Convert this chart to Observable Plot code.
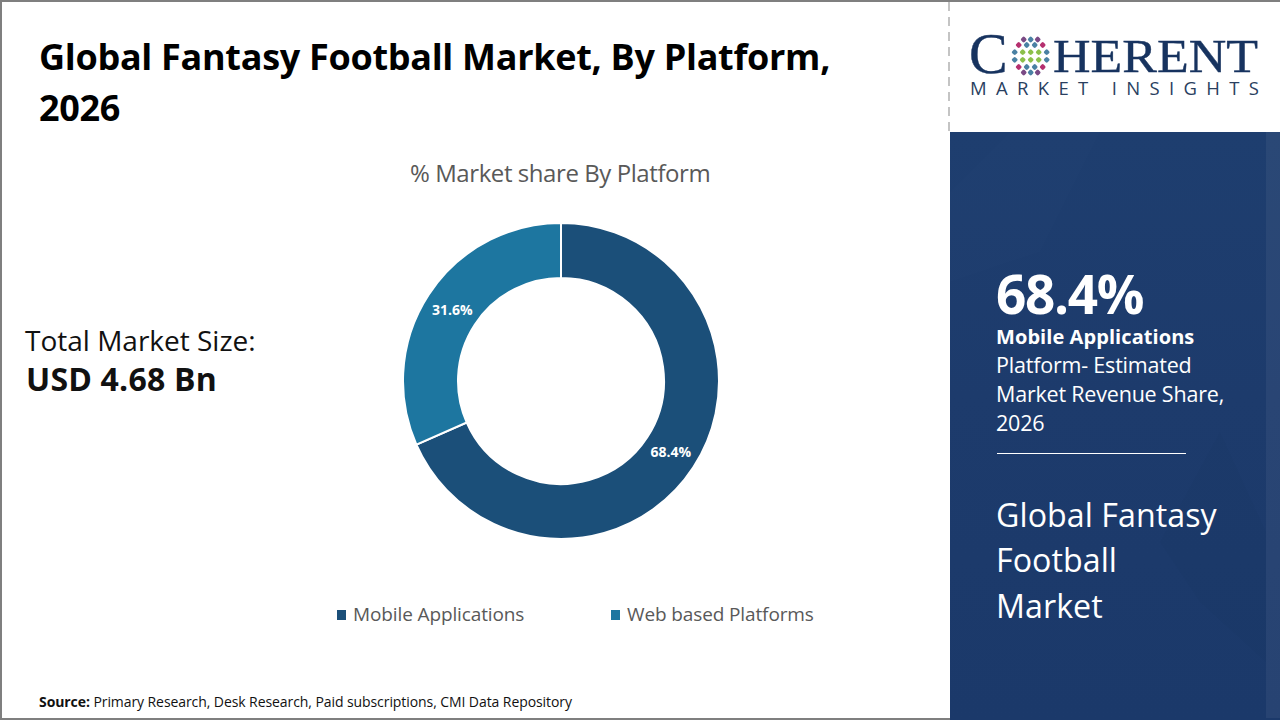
<!DOCTYPE html>
<html><head><meta charset="utf-8">
<script src="https://cdn.jsdelivr.net/npm/d3@7"></script>
<script src="https://cdn.jsdelivr.net/npm/@observablehq/plot@0.6"></script>
<style>
html,body{margin:0;padding:0;background:#fff}
#page{position:relative;width:1280px;height:720px;overflow:hidden;font-family:"Open Sans",sans-serif;background:#fff}
#page>div,#page>svg{position:absolute}
.t{white-space:nowrap}
</style></head><body>
<div id="page"></div>
<script>
const titleLines = ["Global Fantasy Football Market, By Platform,", "2026"];
const chartTitle = "% Market share By Platform";
const platforms = ["Mobile Applications", "Web based Platforms"];
const shares = [68.4, 31.6];
const colors = ["#1b4f79", "#1d76a0"];
const totalLabel = "Total Market Size:";
const totalValue = "USD 4.68 Bn";
const sourceLabel = "Source:";
const sourceText = " Primary Research, Desk Research, Paid subscriptions, CMI Data Repository";
const panelValue = "68.4%";
const panelBold = "Mobile Applications";
const panelLines = ["Platform- Estimated", "Market Revenue Share,", "2026"];
const panelName = ["Global Fantasy", "Football", "Market"];

const page = d3.select("#page");
function text(str, x, base, size, weight, color, spacing) {
  return page.append("div").attr("class", "t").text(str)
    .style("left", x + "px").style("top", (base - size) + "px")
    .style("line-height", (size * 1.36) + "px").style("font-size", size + "px")
    .style("font-weight", weight).style("color", color)
    .style("letter-spacing", (spacing || 0) + "px");
}

// frame + panel
page.append("div").style("left", "0").style("top", "0").style("width", "1280px").style("height", "720px")
  .style("box-sizing", "border-box").style("border", "2px solid #7f7f7f").style("border-right", "none");
page.append("div").style("left", "948px").style("top", "2px").style("width", "2px").style("height", "130px")
  .style("background", "repeating-linear-gradient(180deg,#c4c4c4 0 9px,transparent 9px 15px)");
page.append("div").style("left", "950px").style("top", "132px").style("width", "330px").style("height", "588px")
  .style("background", "linear-gradient(180deg,#1e3e6f 0%,#1d3b6c 45%,#1b396a 100%)");
const tex = page.append("svg").attr("width", 330).attr("height", 588).style("left", "950px").style("top", "132px");
tex.append("polygon").attr("points", "0,60 60,0 150,0 90,120 0,150").attr("fill", "#fff").attr("opacity", 0.008);
tex.append("polygon").attr("points", "210,410 270,300 316,400 316,530 250,470").attr("fill", "#000").attr("opacity", 0.015);
tex.append("rect").attr("x", 316).attr("y", 0).attr("width", 14).attr("height", 586).attr("fill", "#fff").attr("opacity", 0.055);

// texts
titleLines.forEach((l, i) => text(l, 39, 69 + i * 51, 36, 700, "#000", -0.3));
text(chartTitle, 410, 181, 24, 400, "#595959", -0.43);
text(totalLabel, 25, 349, 28, 400, "#111", 0);
text(totalValue, 26, 389, 32, 700, "#111", 0.2);

const src = text(sourceLabel, 39, 706, 14, 700, "#111", -0.08);
src.append("span").style("font-weight", 400).text(sourceText);

text(panelValue, 996, 311, 53, 700, "#fff", -1.3);
text(panelBold, 996, 343, 20, 700, "#fff", 0.07);
panelLines.forEach((l, i) => text(l, 996, 371 + i * 29, 21.5, 400, "#fff", -0.2));
page.append("div").style("left", "997px").style("top", "453px").style("width", "189px").style("height", "1px").style("background", "#fff");
panelName.forEach((l, i) => text(l, 996, 525 + i * 45.5, 32.2, 400, "#fff", 0.05));

// legend
const legendX = [337, 611];
platforms.forEach((p, i) => {
  page.append("div").style("left", legendX[i] + "px").style("top", "610px").style("width", "9px").style("height", "10px").style("background", colors[i]);
  text(p, legendX[i] + 16, 621, 19, 400, "#595959", -0.12);
});

// donut, drawn with Plot through the x (angle) and color scales
const table = platforms.map((platform, i) => ({platform, share: shares[i]}));
const outer = 158, inner = 103;
const size = 340;
const donut = Plot.plot({
  width: size, height: size, margin: 0,
  style: {background: "transparent", overflow: "visible"},
  x: {domain: [0, 100], range: [0, 2 * Math.PI], axis: null},
  y: {axis: null},
  color: {domain: platforms, range: colors},
  marks: [
    Plot.barX(table, Plot.stackX({
      x: "share", fill: "platform", order: null,
      render(index, scales, values, dimensions, context) {
        const g = d3.create("svg:g").attr("aria-label", "arc");
        const arc = d3.arc().innerRadius(inner).outerRadius(outer);
        for (const i of index) {
          g.append("path")
            .attr("transform", `translate(${size / 2},${size / 2})`)
            .attr("d", arc({startAngle: values.x1[i], endAngle: values.x2[i]}))
            .attr("fill", values.fill[i]).attr("stroke", "#fff").attr("stroke-width", 2);
        }
        return g.node();
      }
    })),
    Plot.text(table, Plot.stackX({
      x: "share", text: d => d.share + "%", order: null, fill: "#fff",
      fontSize: 14, fontWeight: 700, fontFamily: "Open Sans",
      render(index, scales, values, dimensions, context, next) {
        const r = (outer + inner) / 2;
        const X = Array.from(values.x, a => size / 2 + r * Math.sin(a));
        const Y = Array.from(values.x, a => size / 2 - r * Math.cos(a));
        return next(index, scales, {...values, x: X, y: Y}, dimensions, context);
      }
    }))
  ]
});
page.append("div").style("left", (560.5 - size / 2) + "px").style("top", (381 - size / 2) + "px").node().append(donut);

// logo
const logo = page.append("svg").attr("width", 330).attr("height", 132).style("left", "950px").style("top", "0");
const navy = "#17335f";
logo.append("text").attr("x", 19).attr("y", 73).attr("font-family", "Liberation Serif").attr("font-size", 58).attr("fill", navy).attr("stroke", navy).attr("stroke-width", 0.4).text("C");
logo.append("text").attr("x", 103).attr("y", 72).attr("font-family", "Liberation Serif").attr("font-size", 46)
  .attr("textLength", 205).attr("lengthAdjust", "spacingAndGlyphs").attr("fill", navy).attr("stroke", navy).attr("stroke-width", 0.4).text("HERENT");
logo.append("text").attr("x", 20).attr("y", 95).attr("font-family", "Open Sans").attr("font-size", 18.5)
  .attr("textLength", 289).attr("lengthAdjust", "spacing").attr("fill", "#2a3f5f").text("MARKET INSIGHTS");
const gx = 80.7, gy = 56;
const rowsY = [-16.5, -11, -3.8, 3.8, 11, 16.5];
const colsX = {0:[-7,0,7], 1:[-12,-4,4,12], 2:[-16,-8,0,8,16], 3:[-16,-8,0,8,16], 4:[-12,-4,4,12], 5:[-7,0,7]};
rowsY.forEach((y, r) => colsX[r].forEach(x => {
  let c = "#4a81a3";
  if (r >= 2 && r <= 3 && Math.abs(x) <= 8) c = "#8cc04b";
  if ((r === 1 || r === 4) && Math.abs(x) === 12) c = "#b5306f";
  if (r === 0 || r === 5) c = Math.abs(x) === 7 ? "#7a4a85" : "#4a81a3";
  logo.append("rect").attr("x", gx + x - 2.4).attr("y", gy + y - 2.4).attr("width", 4.8).attr("height", 4.8)
    .attr("rx", 1.4).attr("transform", `rotate(45 ${gx + x} ${gy + y})`).attr("fill", c);
}));
</script></body></html>
